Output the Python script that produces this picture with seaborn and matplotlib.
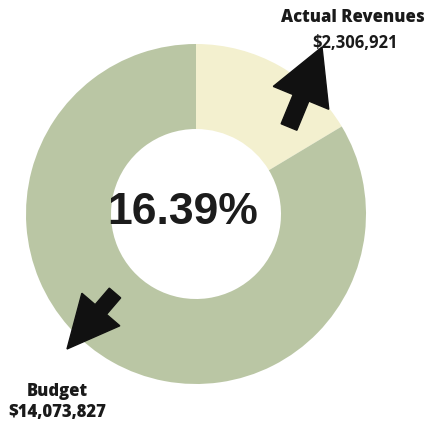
import matplotlib
matplotlib.use("Agg")
import matplotlib.pyplot as plt
from matplotlib.patches import FancyArrow
import seaborn as sns

sns.set_theme(style="white")
plt.rcParams['font.family'] = ['Open Sans', 'DejaVu Sans']

# data
labels = ["Actual Revenues", "Budget"]
budget = 14073827
actual = 2306921
values = [actual, budget - actual]
colors = ["#f3f0cf", "#bac6a4"]
pct = actual / budget * 100

fig = plt.figure(figsize=(4.28, 4.27), dpi=100)
ax = fig.add_axes([0, 0, 1, 1])

# pixel-like coordinates, y up
cx, cy, r = 196, 212, 170
ax.pie(values, colors=colors, startangle=90, counterclock=False,
       radius=r, center=(cx, cy),
       wedgeprops=dict(width=r * 0.5, linewidth=0))
ax.set_xlim(0, 428)
ax.set_ylim(0, 427)
ax.set_aspect('auto')
ax.axis('off')

# centre figure
ax.text(cx - 13, cy + 2, f"{pct:.2f}%", ha='center', va='center',
        fontsize=32, family=['Liberation Sans'], fontweight='bold',
        color='#1c1c1c')

# arrows
def arrow(x0, y0, x1, y1, hw, hl, w):
    ax.add_patch(FancyArrow(x0, y0, x1 - x0, y1 - y0, width=w,
                            head_width=hw, head_length=hl,
                            length_includes_head=True,
                            facecolor='#111111', edgecolor='#111111',
                            linewidth=1, zorder=5))

arrow(289, 427 - 128, 322, 427 - 48, 60, 55, 17)
arrow(115, 427 - 294, 67, 427 - 350, 50, 52, 15)

# labels
ax.text(353, 427 - 18, labels[0], ha='center', va='center',
        fontsize=12, fontweight='heavy', color='#1a1a1a')
ax.text(355, 427 - 43, f"${actual:,}", ha='center', va='center',
        fontsize=12, fontweight='bold', color='#1a1a1a')
ax.text(57, 427 - 392, labels[1], ha='center', va='center',
        fontsize=12, fontweight='heavy', color='#1a1a1a')
ax.text(57, 427 - 413, f"${budget:,}", ha='center', va='center',
        fontsize=12, fontweight='heavy', color='#1a1a1a')

fig.savefig("out.png", dpi=100)
